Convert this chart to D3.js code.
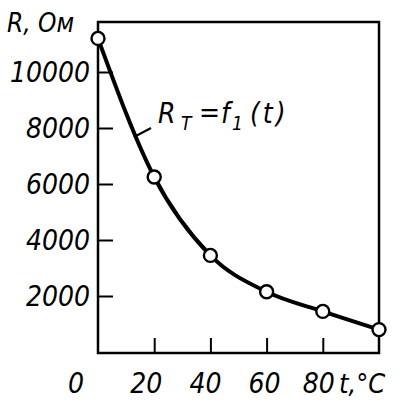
<!DOCTYPE html>
<html>
<head>
<meta charset="utf-8">
<script src="https://cdn.jsdelivr.net/npm/d3@7"></script>
<style>
  body { margin: 0; background: #fff; }
  svg text { font-family: "DejaVu Sans Condensed", "DejaVu Sans", sans-serif; font-style: oblique; fill: #000; }
</style>
</head>
<body>
<div id="chart"></div>
<script>
// measured points R(t)
const temps = [0, 20, 40, 60, 80, 100];
const resist = [11200, 6250, 3450, 2150, 1450, 800];
const yTicks = [2000, 4000, 6000, 8000, 10000];
const xTicks = [20, 40, 60, 80];
const xLabels = ['0', '20', '40', '60', '80'];

const W = 409, H = 412;
const svg = d3.select('#chart').append('svg')
  .attr('width', W).attr('height', H);

const x = d3.scaleLinear().domain([0, 100]).range([98, 379]);
const y = d3.scaleLinear().domain([0, 10000]).range([352, 72]);
const frameTop = 22, frameBottom = 353;

// frame
svg.append('rect')
  .attr('x', x(0)).attr('y', frameTop)
  .attr('width', x(100) - x(0)).attr('height', frameBottom - frameTop)
  .attr('fill', 'none').attr('stroke', '#000').attr('stroke-width', 2.5);

// inward ticks
const yAxis = d3.axisLeft(y).tickValues(yTicks).tickSizeInner(-15).tickSizeOuter(0).tickFormat('');
svg.append('g').attr('transform', `translate(${x(0)},0)`).call(yAxis)
  .call(g => g.select('.domain').remove())
  .selectAll('line').attr('stroke-width', 2);

const xAxis = d3.axisBottom(x).tickValues(xTicks).tickSizeInner(-15).tickSizeOuter(0).tickFormat('');
svg.append('g').attr('transform', `translate(0,${frameBottom})`).call(xAxis)
  .call(g => g.select('.domain').remove())
  .selectAll('line').attr('stroke-width', 2);

// y labels
svg.append('g').selectAll('text').data(yTicks).join('text')
  .attr('x', 90).attr('y', d => y(d) + 10)
  .attr('text-anchor', 'end')
  .attr('font-size', 28)
  .text(d => d);

svg.append('text').attr('x', 7).attr('y', 32).attr('font-size', 26).text('R, Ом');

// x labels
const xOff = [-22, -8, -5, -2, -4];
svg.append('g').selectAll('text').data(xLabels).join('text')
  .attr('x', (d, i) => x(+d) + xOff[i]).attr('y', 393)
  .attr('text-anchor', 'middle')
  .attr('font-size', 28)
  .text(d => d);

svg.append('text').attr('x', 339).attr('y', 393).attr('font-size', 27).text('t,°C');

// curve
const line = d3.line().x((d, i) => x(temps[i])).y(d => y(d)).curve(d3.curveMonotoneX);
svg.append('path').datum(resist)
  .attr('d', line)
  .attr('fill', 'none').attr('stroke', '#000').attr('stroke-width', 4);

svg.append('g').selectAll('circle').data(resist).join('circle')
  .attr('cx', (d, i) => x(temps[i])).attr('cy', d => y(d))
  .attr('r', 6.5)
  .attr('fill', '#fff').attr('stroke', '#000').attr('stroke-width', 2.4);

// annotation
svg.append('line')
  .attr('x1', 134).attr('y1', 137).attr('x2', 151).attr('y2', 128)
  .attr('stroke', '#000').attr('stroke-width', 2);

const ann = svg.append('g').attr('font-size', 28);
ann.append('text').attr('x', 158).attr('y', 123).attr('font-size', 28).text('R');
ann.append('text').attr('x', 181).attr('y', 130).attr('font-size', 19).text('T');
ann.append('text').attr('x', 199).attr('y', 122).attr('font-size', 28).text('=');
ann.append('text').attr('x', 221).attr('y', 123).attr('font-size', 28).text('f');
ann.append('text').attr('x', 232).attr('y', 130).attr('font-size', 19).text('1');
ann.append('text').attr('x', 250).attr('y', 123).attr('font-size', 28)
  .attr('letter-spacing', 3).text('(t)');
</script>
</body>
</html>
